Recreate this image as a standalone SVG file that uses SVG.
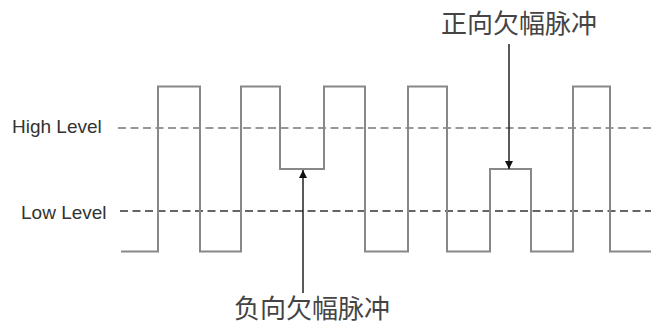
<svg xmlns="http://www.w3.org/2000/svg" width="651" height="324" viewBox="0 0 651 324">
<style>
.lbl{font-family:"Liberation Sans",Arial,sans-serif;font-size:19px;fill:#333}
.cjk{font-family:"Noto Sans CJK SC",sans-serif;font-size:26px;fill:#444;text-anchor:middle}
.wave{fill:none;stroke:#888;stroke-width:2}
.dashH{stroke:#999;stroke-width:2;stroke-dasharray:8 4.5}
.dashL{stroke:#666;stroke-width:2;stroke-dasharray:8 4.5}
.arr{stroke:#222;stroke-width:1.5;fill:none}
</style>
<defs>
<marker id="ah" viewBox="0 0 10 10" refX="10" refY="5" markerWidth="13" markerHeight="8" markerUnits="userSpaceOnUse" orient="auto">
<path d="M0,0 L10,5 L0,10 Z" fill="#111"/>
</marker>
</defs>
<rect width="651" height="324" fill="#fff"/>
<g id="levels">
<line class="dashH" x1="118" y1="128" x2="651" y2="128"/>
<line class="dashL" x1="120" y1="211" x2="651" y2="211"/>
</g>
<g id="high-label"><text class="lbl" x="12" y="133">High Level</text></g>
<g id="low-label"><text class="lbl" x="21" y="219">Low Level</text></g>
<g id="waveform">
<path class="wave" d="M121,251.5 H158 V86.5 H200 V251.5 H241 V86.5 H280 V169 H324 V86.5 H365 V251.5 H408 V86.5 H447 V251.5 H490 V169 H531 V251.5 H573 V86.5 H610 V251.5 H651"/>
</g>
<g id="connectors">
<line class="arr" x1="509" y1="44" x2="509" y2="169" marker-end="url(#ah)"/>
<line class="arr" x1="303" y1="293" x2="303" y2="170" marker-end="url(#ah)"/>
</g>
<g id="positive-runt"><text class="cjk" x="519" y="33">正向欠幅脉冲</text></g>
<g id="negative-runt"><text class="cjk" x="312" y="318">负向欠幅脉冲</text></g>
</svg>
